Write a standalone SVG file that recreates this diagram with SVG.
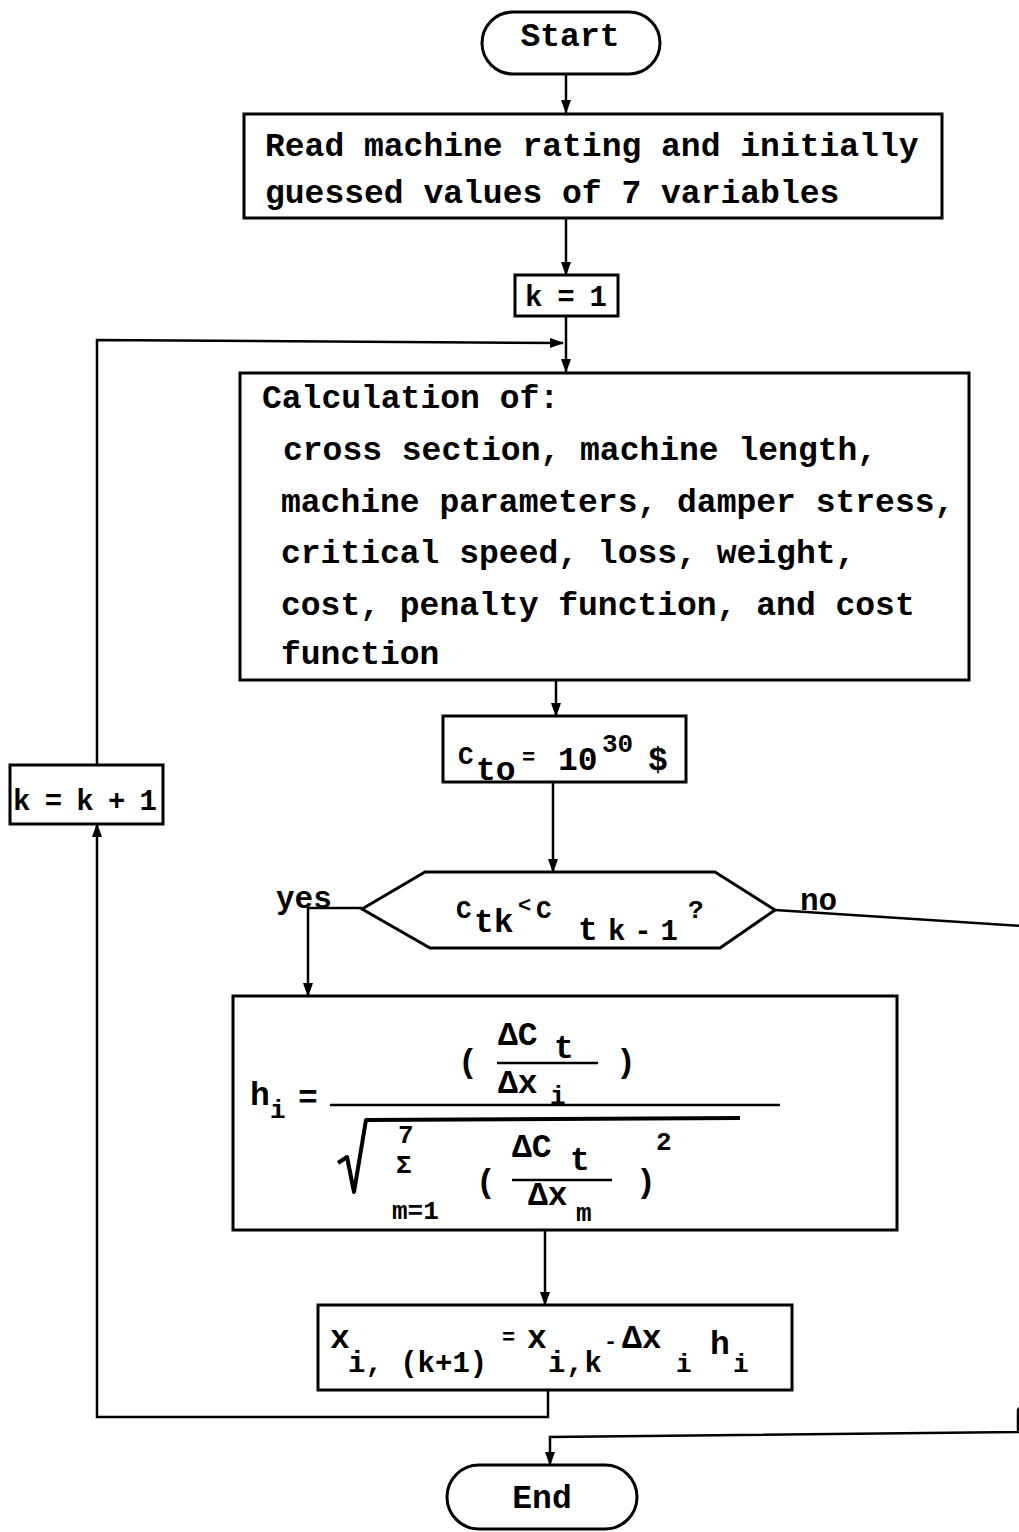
<svg xmlns="http://www.w3.org/2000/svg" width="1019" height="1532" viewBox="0 0 1019 1532">
  <style>
    .box { fill: none; stroke: #000; stroke-width: 3; }
    .line { fill: none; stroke: #000; stroke-width: 2.5; }
    .t { font-family: "Liberation Mono", "Courier New", monospace; font-weight: bold; font-size: 33px; fill: #000; }
    .s { font-family: "Liberation Mono", "Courier New", monospace; font-weight: bold; font-size: 26px; fill: #000; }
    .sb { font-family: "Liberation Mono", "Courier New", monospace; font-weight: bold; font-size: 29px; fill: #000; }
    .sm { font-family: "Liberation Mono", "Courier New", monospace; font-weight: bold; font-size: 22px; fill: #000; }
    .lbl { font-family: "Liberation Mono", "Courier New", monospace; font-weight: bold; font-size: 31px; fill: #000; }
  </style>
  <defs>
    <marker id="arrow" markerUnits="userSpaceOnUse" markerWidth="14" markerHeight="10" refX="13" refY="5" orient="auto">
      <path d="M0,0 L14,5 L0,10 z" fill="#000"/>
    </marker>
  </defs>
  <rect width="1019" height="1532" fill="#fff"/>

  <!-- connectors -->
  <g id="connectors">
    <line class="line" x1="566" y1="74" x2="566" y2="113" marker-end="url(#arrow)"/>
    <line class="line" x1="566" y1="218" x2="566" y2="275" marker-end="url(#arrow)"/>
    <line class="line" x1="566" y1="316" x2="566" y2="372" marker-end="url(#arrow)"/>
    <path class="line" d="M97,765 V340 L563,343" marker-end="url(#arrow)"/>
    <line class="line" x1="556" y1="680" x2="556" y2="716" marker-end="url(#arrow)"/>
    <line class="line" x1="553" y1="782" x2="553" y2="872" marker-end="url(#arrow)"/>
    <path class="line" d="M362,908 H308 V996" marker-end="url(#arrow)"/>
    <path class="line" d="M775,910 L1022,926 V1405 L1018,1410 V1432 L550,1437 V1465" marker-end="url(#arrow)"/>
    <line class="line" x1="545" y1="1230" x2="545" y2="1305" marker-end="url(#arrow)"/>
    <path class="line" d="M548,1390 V1417 H97 V824" marker-end="url(#arrow)"/>
    <text class="lbl" x="276" y="908">yes</text>
    <text class="lbl" x="800" y="910">no</text>
  </g>

  <!-- start terminal -->
  <g id="start">
    <rect class="box" x="482" y="12" width="178" height="62" rx="31"/>
    <text class="t" x="570" y="46" text-anchor="middle">Start</text>
  </g>

  <!-- read input -->
  <g id="read">
    <rect class="box" x="244" y="114" width="698" height="104"/>
    <text class="t" x="265" y="156">Read machine rating and initially</text>
    <text class="t" x="265" y="203">guessed values of 7 variables</text>
  </g>

  <!-- k = 1 -->
  <g id="init-k">
    <rect class="box" x="515" y="275" width="103" height="41"/>
    <text class="sb" x="525" y="306" textLength="82" lengthAdjust="spacing">k = 1</text>
  </g>

  <!-- calculation block -->
  <g id="calc">
    <rect class="box" x="240" y="373" width="729" height="307"/>
    <text class="t" x="262" y="408">Calculation of:</text>
    <text class="t" x="283" y="460">cross section, machine length,</text>
    <text class="t" x="281" y="512">machine parameters, damper stress,</text>
    <text class="t" x="281" y="563">critical speed, loss, weight,</text>
    <text class="t" x="281" y="615">cost, penalty function, and cost</text>
    <text class="t" x="281" y="664">function</text>
  </g>

  <!-- initial cost -->
  <g id="init-cost">
    <rect class="box" x="443" y="716" width="243" height="66"/>
    <text class="s" x="458" y="764">C</text>
    <text class="t" x="476" y="780">to</text>
    <text class="sm" x="522" y="764">=</text>
    <text class="t" x="558" y="770">10</text>
    <text class="s" x="602" y="752">30</text>
    <text class="t" x="648" y="770">$</text>
  </g>

  <!-- decision -->
  <g id="decision">
    <polygon class="box" points="362,909 425,872 715,872 775,910 720,948 430,948"/>
    <text class="s" x="456" y="918">C</text>
    <text class="t" x="474" y="932">tk</text>
    <text class="sm" x="518" y="912">&lt;</text>
    <text class="s" x="536" y="918">C</text>
    <text class="t" x="578" y="940">t</text>
    <text class="sb" x="608" y="940" textLength="70" lengthAdjust="spacing">k-1</text>
    <text class="s" x="688" y="918">?</text>
  </g>

  <!-- gradient formula -->
  <g id="gradient">
    <rect class="box" x="233" y="996" width="664" height="234"/>
    <text class="t" x="250" y="1105">h</text>
    <text class="s" x="270" y="1118">i</text>
    <text class="t" x="298" y="1108">=</text>
    <line class="line" x1="330" y1="1105" x2="780" y2="1105"/>
    <text class="t" x="458" y="1072">(</text>
    <text class="t" x="498" y="1045">ΔC</text>
    <text class="t" x="554" y="1058">t</text>
    <line class="line" x1="497" y1="1063" x2="598" y2="1063"/>
    <text class="t" x="498" y="1093">Δx</text>
    <text class="s" x="550" y="1104">i</text>
    <text class="t" x="616" y="1072">)</text>
    <path d="M338,1163 L347,1157 L354,1192 L366,1120 L740,1118" fill="none" stroke="#000" stroke-width="4" stroke-linejoin="round"/>
    <text class="s" x="398" y="1143">7</text>
    <text class="s" x="396" y="1173">Σ</text>
    <text class="s" x="392" y="1219">m=1</text>
    <text class="t" x="476" y="1192">(</text>
    <text class="t" x="512" y="1157">ΔC</text>
    <text class="t" x="570" y="1170">t</text>
    <line class="line" x1="512" y1="1180" x2="612" y2="1180"/>
    <text class="t" x="528" y="1205">Δx</text>
    <text class="s" x="576" y="1221">m</text>
    <text class="t" x="636" y="1192">)</text>
    <text class="s" x="656" y="1150">2</text>
  </g>

  <!-- variable update -->
  <g id="update">
    <rect class="box" x="318" y="1305" width="474" height="85"/>
    <text class="t" x="330" y="1348">x</text>
    <text class="sb" x="348" y="1372">i, (k+1)</text>
    <text class="sm" x="502" y="1344">=</text>
    <text class="t" x="527" y="1348">x</text>
    <text class="sb" x="548" y="1372" textLength="54" lengthAdjust="spacing">i,k</text>
    <text class="sm" x="604" y="1348">-</text>
    <text class="t" x="622" y="1348">Δx</text>
    <text class="s" x="676" y="1372">i</text>
    <text class="t" x="710" y="1354">h</text>
    <text class="s" x="733" y="1372">i</text>
  </g>

  <!-- k = k + 1 -->
  <g id="step-k">
    <rect class="box" x="10" y="765" width="153" height="59"/>
    <text class="sb" x="13" y="810" textLength="144" lengthAdjust="spacing">k = k + 1</text>
  </g>

  <!-- end terminal -->
  <g id="end">
    <rect class="box" x="447" y="1465" width="190" height="64" rx="32"/>
    <text class="t" x="542" y="1508" text-anchor="middle">End</text>
  </g>
</svg>
